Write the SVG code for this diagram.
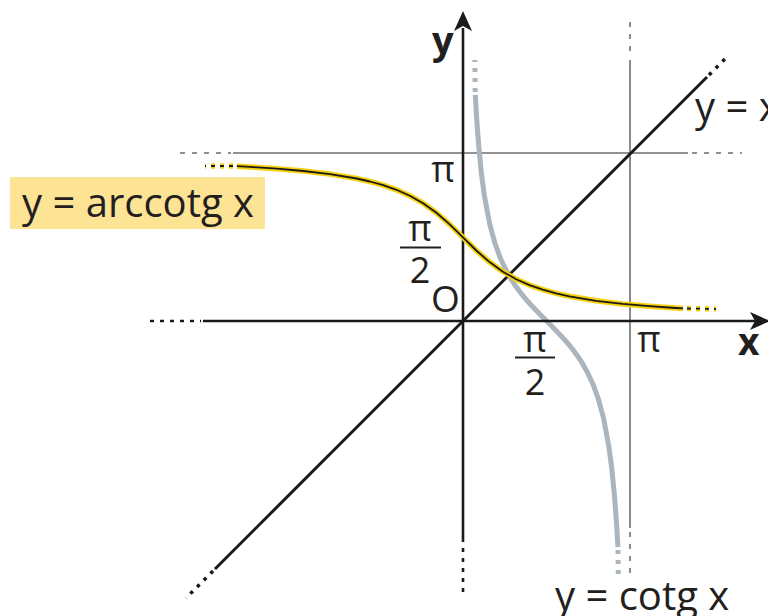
<svg xmlns="http://www.w3.org/2000/svg" width="768" height="616" viewBox="0 0 768 616">
<defs>
<style>
.t{font-family:"Open Sans","DejaVu Sans",sans-serif;fill:#231f20}
.b{font-weight:bold}
.ax{stroke:#1a1a1a;stroke-width:2.6;fill:none}
.axd{stroke:#1a1a1a;stroke-width:2.6;fill:none;stroke-dasharray:4 6}
.gr{stroke:#6e6e6e;stroke-width:1.6;fill:none}
.grd{stroke:#6e6e6e;stroke-width:1.6;fill:none;stroke-dasharray:5 7}
.cot{stroke:#aab5bd;stroke-width:5;fill:none;stroke-linejoin:round}
.cotd{stroke:#aab5bd;stroke-width:5;fill:none;stroke-dasharray:4 6}
.glow{stroke:#f5d10f;stroke-width:5.5;fill:none;stroke-linejoin:round}
.core{stroke:#1a1a1a;stroke-width:1.8;fill:none;stroke-linejoin:round}
.bar{stroke:#231f20;stroke-width:2}
</style>
</defs>
<rect width="768" height="616" fill="#ffffff"/>
<g id="grid">
<line class="gr" x1="233" y1="153" x2="688" y2="153"/>
<line class="grd" x1="180" y1="153" x2="231" y2="153"/>
<line class="grd" x1="692" y1="153" x2="742" y2="153"/>
<line class="gr" x1="630" y1="60" x2="630" y2="528"/>
<line class="grd" x1="630" y1="22" x2="630" y2="57"/>
<line class="grd" x1="630" y1="532" x2="630" y2="575"/>
</g>
<g id="cotg">
<polyline class="cot" points="475.3,94.9 476.3,112.7 477.4,128.8 479,149 481.6,175.2 484.3,195.2 489.6,223.6 494.9,243.2 500.2,257.8 505.6,269.3 510.9,278.8 516.2,286.8 521.5,293.9 526.8,300.3 532.2,306.2 537.5,311.8 542.8,317.2 546.6,321 550.4,324.8 555.7,330.2 561,335.8 566.4,341.7 571.7,348.1 577,355.2 582.3,363.2 587.6,372.7 593,384.2 598.3,398.8 603.6,418.4 608.9,446.8 611.6,466.8 614.2,493 615.8,513.2 616.9,529.3 617.9,547.1"/>
<line class="cotd" x1="475.2" y1="92" x2="474.8" y2="60"/>
<line class="cotd" x1="618" y1="550" x2="618.3" y2="575"/>
</g>
<g id="axes">
<line class="ax" x1="203" y1="321" x2="755" y2="321"/>
<line class="axd" x1="150" y1="321" x2="201" y2="321"/>
<path d="M770,321 L750,312 L755,321 L750,330 Z" fill="#1a1a1a"/>
<line class="ax" x1="463" y1="28" x2="463" y2="542"/>
<line class="axd" x1="463" y1="548" x2="463" y2="594"/>
<path d="M463,11 L454,31 L463,26 L472,31 Z" fill="#1a1a1a"/>
</g>
<g id="line-y-x">
<line stroke="#1a1a1a" stroke-width="3" x1="215" y1="569" x2="707" y2="77"/>
<line stroke="#1a1a1a" stroke-width="3.5" stroke-dasharray="3.5 6" x1="709" y1="75" x2="728" y2="56"/>
<line stroke="#1a1a1a" stroke-width="3.5" stroke-dasharray="3.5 6" x1="213" y1="571" x2="186" y2="598"/>
</g>
<g id="arccotg">
<polyline class="glow" points="236.9,166.2 250.2,166.9 276.8,168.7 303.4,171 330,174.1 356.6,178.5 369.9,181.5 383.2,185.2 396.5,189.8 409.8,195.7 423.1,203.2 436.4,212.8 449.7,224.4 463,237.4 476.3,250.5 489.6,262.1 502.9,271.7 516.2,279.2 529.5,285.1 542.8,289.7 556.1,293.4 569.4,296.3 596,300.8 622.6,303.9 649.2,306.2 675.8,308 683,308.4"/>
<polyline class="core" points="236.9,166.2 250.2,166.9 276.8,168.7 303.4,171 330,174.1 356.6,178.5 369.9,181.5 383.2,185.2 396.5,189.8 409.8,195.7 423.1,203.2 436.4,212.8 449.7,224.4 463,237.4 476.3,250.5 489.6,262.1 502.9,271.7 516.2,279.2 529.5,285.1 542.8,289.7 556.1,293.4 569.4,296.3 596,300.8 622.6,303.9 649.2,306.2 675.8,308 683,308.4"/>
<line class="glow" stroke-dasharray="4 5" x1="233" y1="166" x2="205" y2="166"/>
<line class="core" stroke-dasharray="4 5" x1="233" y1="166" x2="205" y2="166"/>
<line class="glow" stroke-dasharray="4 5" x1="687" y1="308.5" x2="716" y2="309"/>
<line class="core" stroke-dasharray="4 5" x1="687" y1="308.5" x2="716" y2="309"/>
</g>
<g id="labels">
<rect x="10" y="177" width="255" height="52" fill="#fde394"/>
<text class="t" x="22" y="217" font-size="40">y = arccotg x</text>
<text class="t" x="695" y="121" font-size="40">y = x</text>
<text class="t" x="555" y="610" font-size="40">y = cotg x</text>
<text class="t b" x="432" y="54" font-size="38">y</text>
<text class="t b" x="738" y="355" font-size="37">x</text>
<text class="t" x="443" y="182" font-size="36" text-anchor="middle">π</text>
<text class="t" x="649" y="352" font-size="36" text-anchor="middle">π</text>
<text class="t" x="420" y="241" font-size="36" text-anchor="middle">π</text>
<line class="bar" x1="400" y1="247.5" x2="441" y2="247.5"/>
<text class="t" x="420" y="283" font-size="36" text-anchor="middle">2</text>
<text class="t" x="431" y="312" font-size="37">O</text>
<text class="t" x="535" y="352" font-size="36" text-anchor="middle">π</text>
<line class="bar" x1="515" y1="357.5" x2="555" y2="357.5"/>
<text class="t" x="535" y="395" font-size="36" text-anchor="middle">2</text>
</g>
</svg>
